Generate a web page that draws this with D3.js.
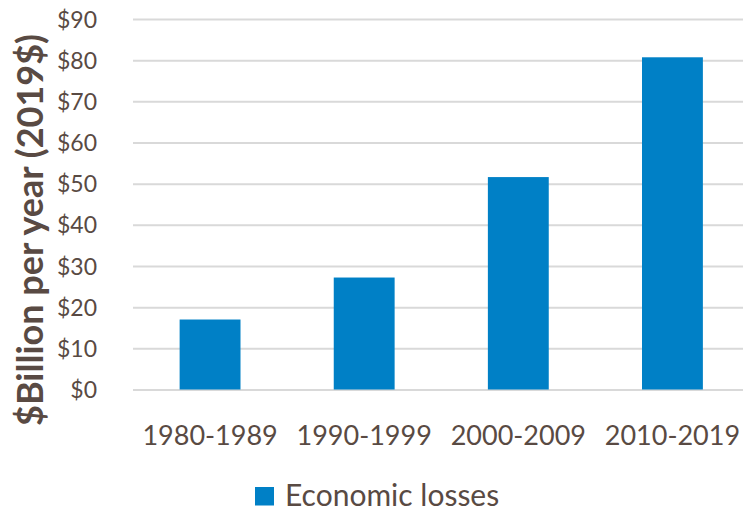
<!DOCTYPE html>
<html>
<head>
<meta charset="utf-8">
<script src="https://cdn.jsdelivr.net/npm/d3@7"></script>
<style>
  html, body { margin: 0; padding: 0; background: #fff; }
  svg { display: block; }
  text { font-family: Lato, "Open Sans", sans-serif; fill: #594a43; }
</style>
</head>
<body>
<svg id="chart" width="743" height="512"></svg>
<script>
// Decade categories and average annual economic losses ($ billion, 2019$)
const decades = ["1980-1989", "1990-1999", "2000-2009", "2010-2019"];
const losses = [17.0, 27.2, 51.6, 80.7];
const yTicks = [0, 10, 20, 30, 40, 50, 60, 70, 80, 90];
const seriesName = "Economic losses";
const axisTitle = "$Billion per year (2019$)";

const svg = d3.select("#chart");
const W = 743, H = 512;
const plot = { left: 133, right: 749.5, top: 19, bottom: 389.5 };
const textColor = "#594a43";
const barColor = "#0080c6";

const x = d3.scaleBand()
  .domain(decades)
  .range([plot.left, plot.right])
  .paddingInner(0.605)
  .paddingOuter(0.3025);

const y = d3.scaleLinear()
  .domain([0, 90])
  .range([plot.bottom, plot.top]);

// Horizontal gridlines
const grid = svg.append("g")
  .attr("transform", `translate(${plot.left},0)`)
  .call(d3.axisLeft(y).tickValues(yTicks).tickSize(-(W - plot.left)).tickFormat(""));
grid.select(".domain").remove();
grid.selectAll("line").attr("stroke", "#d9d9d9").attr("stroke-width", 2);

// Y tick labels
const yAxis = svg.append("g")
  .attr("transform", "translate(97,0)")
  .call(d3.axisLeft(y).tickValues(yTicks).tickSize(0).tickPadding(0).tickFormat(d => "$" + d));
yAxis.select(".domain").remove();
yAxis.selectAll("text").style("font-size", "23px").attr("dy", "0.35em").style("fill", textColor);

// Bars
svg.append("g").selectAll("rect")
  .data(decades)
  .join("rect")
  .attr("x", d => x(d))
  .attr("width", x.bandwidth())
  .attr("y", (d, i) => y(losses[i]))
  .attr("height", (d, i) => y(0) - y(losses[i]))
  .attr("fill", barColor);

// X tick labels
const xAxis = svg.append("g")
  .attr("transform", `translate(0,${plot.bottom})`)
  .call(d3.axisBottom(x).tickSize(0).tickPadding(0));
xAxis.select(".domain").remove();
xAxis.selectAll("text").style("font-size", "27px").attr("y", 55).attr("dy", 0).style("fill", textColor);

// Y axis title
svg.append("text")
  .attr("transform", "translate(43,230) rotate(-90)")
  .attr("text-anchor", "middle")
  .style("font-size", "36px")
  .style("font-weight", "bold")
  .text(axisTitle);

// Legend
const legend = svg.append("g");
legend.append("rect")
  .attr("x", 255).attr("y", 487).attr("width", 19).attr("height", 18.5)
  .attr("fill", barColor);
legend.append("text")
  .attr("x", 285).attr("y", 505.5)
  .style("font-size", "30px")
  .text(seriesName);
</script>
</body>
</html>
